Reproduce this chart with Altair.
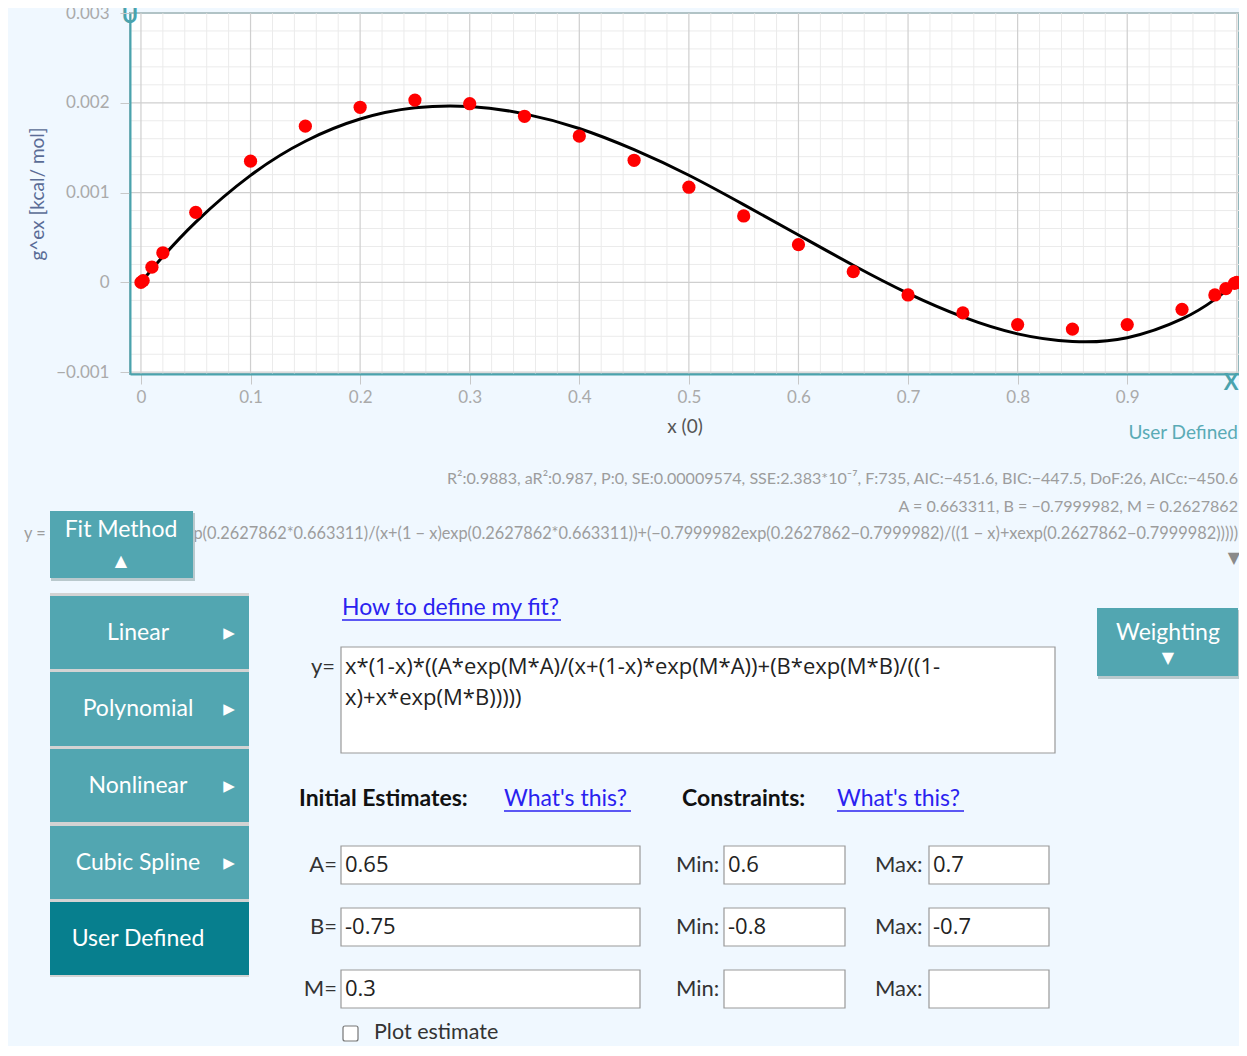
import altair as alt
import pandas as pd

# ---------------- chart values ----------------
pt_x = [0, 0.002, 0.01, 0.02, 0.05, 0.1, 0.15, 0.2, 0.25, 0.3, 0.35, 0.4, 0.45, 0.5,
        0.55, 0.6, 0.65, 0.7, 0.75, 0.8, 0.85, 0.9, 0.95, 0.98, 0.99, 0.998, 1.0]
pt_y = [0, 0.00002, 0.00017, 0.00033, 0.00078, 0.00135, 0.00174, 0.00195, 0.00203,
        0.00199, 0.00185, 0.00163, 0.00136, 0.00106, 0.00074, 0.00042, 0.00012,
        -0.00014, -0.00034, -0.00047, -0.00052, -0.00047, -0.00030, -0.00014,
        -0.00007, -0.00001, 0]

fit_x = [0, 0.01, 0.02, 0.05, 0.1, 0.15, 0.2, 0.25, 0.3, 0.35, 0.4, 0.45, 0.5, 0.55,
         0.6, 0.65, 0.7, 0.75, 0.8, 0.85, 0.9, 0.95, 0.98, 1.0]
fit_y = [0, 0.000147, 0.000287, 0.000672, 0.001192, 0.001572, 0.001819, 0.001944,
         0.001959, 0.001877, 0.001714, 0.001478, 0.001193, 0.000866, 0.000528,
         0.000191, -0.000122, -0.000384, -0.000573, -0.000658, -0.000616, -0.000407,
         -0.000189, 0]

x_grid = [0, 0.1, 0.2, 0.3, 0.4, 0.5, 0.6, 0.7, 0.8, 0.9, 1.0]
x_labels = [0, 0.1, 0.2, 0.3, 0.4, 0.5, 0.6, 0.7, 0.8, 0.9]
y_ticks = [-0.001, 0, 0.001, 0.002, 0.003]
x_minor = [round(i * 0.02, 2) for i in range(0, 51) if i % 5 != 0]
y_minor = [round(-0.001 + i * 0.0002, 5) for i in range(0, 21) if i % 5 != 0]

x_title = "x (0)"
y_title = "g^ex [kcal/ mol]"
fit_name = "User Defined"
stats_text = ("R²:0.9883, aR²:0.987, P:0, SE:0.00009574, SSE:2.383*10⁻⁷, F:735, "
              "AIC:−451.6, BIC:−447.5, DoF:26, AICc:−450.6")
params_text = "A = 0.663311, B = −0.7999982, M = 0.2627862"
formula_text = ("y = x(1 − x)(0.663311exp(0.2627862*0.663311)/(x+(1 − x)exp(0.2627862*0.663311))"
                "+(−0.7999982exp(0.2627862−0.7999982)/((1 − x)+xexp(0.2627862−0.7999982)))))")
menu_items = ["Linear", "Polynomial", "Nonlinear", "Cubic Spline", "User Defined"]
user_formula = ["x*(1-x)*((A*exp(M*A)/(x+(1-x)*exp(M*A))+(B*exp(M*B)/((1-",
                "x)+x*exp(M*B)))))"]
param_names = ["A=", "B=", "M="]
param_init = ["0.65", "-0.75", "0.3"]
param_min = ["0.6", "-0.8", ""]
param_max = ["0.7", "-0.7", ""]

# ---------------- styling ----------------
TEAL = "#52a6b1"
TEAL_DARK = "#077f8e"
AXIS_TEAL = "#4aa3ad"
LINK = "#2a22f0"
FONT = "Lato, DejaVu Sans"
INPUT_FONT = "Open Sans, DejaVu Sans"

XS = alt.Scale(domain=[-0.01, 1.002], nice=False, zero=False)
YS = alt.Scale(domain=[-0.00102, 0.003], nice=False, zero=False)

xaxis = alt.Axis(values=x_labels, format="~g", title=x_title, grid=False,
                 domainColor=AXIS_TEAL, domainWidth=2, tickColor="#c8c8c8", tickSize=10,
                 labelColor="#aaaaaa", labelFontSize=17, labelPadding=5, labelFlush=False,
                 labelFont=FONT, titleFont=FONT, titleColor="#555555", titleFontSize=19,
                 titleFontWeight="normal", titlePadding=12, zindex=1)
yaxis = alt.Axis(values=y_ticks, format="~g", title=y_title, grid=False,
                 domainColor=AXIS_TEAL, domainWidth=2, tickColor="#c8c8c8", tickSize=10,
                 labelColor="#aaaaaa", labelFontSize=17, labelPadding=11, labelFlush=False,
                 labelFont=FONT, titleFont=FONT, titleColor="#5a6c96", titleFontSize=19,
                 titleFontWeight="normal", titlePadding=8, zindex=1)

X = lambda f: alt.X(f, scale=XS, axis=xaxis)
Y = lambda f: alt.Y(f, scale=YS, axis=yaxis)

minor_v = alt.Chart(pd.DataFrame({"x": x_minor})).mark_rule(color="#ebebeb", strokeWidth=1).encode(x=X("x:Q"))
minor_h = alt.Chart(pd.DataFrame({"y": y_minor})).mark_rule(color="#ebebeb", strokeWidth=1).encode(y=Y("y:Q"))
major_v = alt.Chart(pd.DataFrame({"x": x_grid})).mark_rule(color="#cfcfcf", strokeWidth=1.2).encode(x=X("x:Q"))
major_h = alt.Chart(pd.DataFrame({"y": y_ticks})).mark_rule(color="#cfcfcf", strokeWidth=1.2).encode(y=Y("y:Q"))

curve = alt.Chart(pd.DataFrame({"x": fit_x, "y": fit_y})).mark_line(
    color="black", strokeWidth=3, interpolate="natural").encode(x=X("x:Q"), y=Y("y:Q"))
points = alt.Chart(pd.DataFrame({"x": pt_x, "y": pt_y})).mark_circle(
    color="#ff0000", size=175, opacity=1).encode(x=X("x:Q"), y=Y("y:Q"))


# ---------------- page widgets (pixel positions inside the chart) ----------------
def PX(f):
    return alt.X(f, scale=None, axis=None)


def PY(f):
    return alt.Y(f, scale=None, axis=None)


def text_layer(rows, align, font=FONT, weight="normal"):
    df = pd.DataFrame(rows, columns=["px", "py", "text", "color", "size"])
    return alt.Chart(df).mark_text(align=align, baseline="middle", font=font,
                                   fontWeight=weight).encode(
        x=PX("px:Q"), y=PY("py:Q"), text="text:N",
        color=alt.Color("color:N", scale=None), size=alt.Size("size:Q", scale=None))


def rect_layer(rows, stroke=None, sw=1, radius=0):
    df = pd.DataFrame(rows, columns=["x1", "x2", "y1", "y2", "fill"])
    kw = dict(cornerRadius=radius)
    if stroke:
        kw.update(stroke=stroke, strokeWidth=sw)
    return alt.Chart(df).mark_rect(**kw).encode(
        x=PX("x1:Q"), x2="x2:Q", y=PY("y1:Q"), y2="y2:Q",
        fill=alt.Color("fill:N", scale=None))


GRAY = "#9d9d9d"
stats_layer = text_layer([
    [1108, 466, stats_text, GRAY, 16.1],
    [1108, 494, params_text, GRAY, 16.1],
    [1108, 521, formula_text, GRAY, 16.35],
], "right")

menu_y = [(583, 656), (659, 733), (736, 809), (813, 886), (889, 962)]
btn_rows = [
    [-79, 65, 500, 568, "#b9c9cd"],
    [968, 1110, 597, 666, "#b9c9cd"],
    [-80, 63, 498, 565, TEAL],
    [967, 1108, 595, 663, TEAL],
    [-80, 119, 580, 964, "#d3d3d3"],
]
for i, (a, b) in enumerate(menu_y):
    btn_rows.append([-80, 119, a, b, TEAL_DARK if i == 4 else TEAL])
buttons = rect_layer(btn_rows)

box_rows = [[211, 925, 634, 740, "white"]]
row_y = [852, 914, 976]
for cy in row_y:
    box_rows.append([211, 510, cy - 19, cy + 19, "white"])
    box_rows.append([594, 715, cy - 19, cy + 19, "white"])
    box_rows.append([799, 919, cy - 19, cy + 19, "white"])
boxes = rect_layer(box_rows, stroke="#999999", sw=1.2)
checkbox = rect_layer([[213, 228, 1013, 1028, "white"]], stroke="#767676", sw=1.2, radius=2)

center_rows = [
    [-9, 517, "Fit Method", "white", 23],
    [-9, 548, "▲", "white", 16],
    [1038, 620, "Weighting", "white", 23],
    [1038, 645, "▼", "white", 16],
    [1104, 545, "▼", "#8a8a8a", 16],
]
for i, (a, b) in enumerate(menu_y):
    cy = (a + b) / 2
    center_rows.append([8, cy, menu_items[i], "white", 23])
    if i < 4:
        center_rows.append([99, cy, "▶", "white", 15])
centers = text_layer(center_rows, "center")

handles = text_layer([
    [0, 3, "U", AXIS_TEAL, 22],
    [1101, 370, "X", AXIS_TEAL, 22],
], "center", weight="bold")

right_rows = [
    [1108, 420, fit_name, "#5aabb6", 19],
    [205, 654, "y=", "#333333", 22],
]
for i, cy in enumerate(row_y):
    right_rows.append([207, cy, param_names[i], "#333333", 22])
rights = text_layer(right_rows, "right")

left_rows = [
    [212, 595, "How to define my fit?", LINK, 23],
    [374, 786, "What's this?", LINK, 23],
    [707, 786, "What's this?", LINK, 23],
    [244, 1020, "Plot estimate", "#333333", 21.5],
]
for cy in row_y:
    left_rows.append([546, cy, "Min:", "#333333", 22])
    left_rows.append([745, cy, "Max:", "#333333", 22])
lefts = text_layer(left_rows, "left")

input_rows = [
    [215, 654, user_formula[0], "#222222", 22],
    [215, 685, user_formula[1], "#222222", 22],
]
for i, cy in enumerate(row_y):
    input_rows.append([215, cy, param_init[i], "#222222", 22])
    input_rows.append([598, cy, param_min[i], "#222222", 22])
    input_rows.append([803, cy, param_max[i], "#222222", 22])
inputs = text_layer(input_rows, "left", font=INPUT_FONT)

bold = text_layer([
    [169, 786, "Initial Estimates:", "#111111", 23],
    [552, 786, "Constraints:", "#111111", 23],
], "left", weight="bold")

underline = alt.Chart(pd.DataFrame({
    "x1": [212, 374, 707], "x2": [431, 501, 834], "y": [607, 798, 798]
})).mark_rule(color=LINK, strokeWidth=1.5).encode(x=PX("x1:Q"), x2="x2:Q", y=PY("y:Q"))

chart = alt.layer(
    minor_v, minor_h, major_v, major_h, curve, points, handles,
    stats_layer, buttons, boxes, checkbox, centers, rights, lefts, inputs, bold, underline,
).properties(
    width=1109, height=361, autosize="none",
    padding={"left": 122, "top": 5, "right": 0, "bottom": 672},
).configure(background="#f0f8ff").configure_view(
    fill="white", stroke="#93b7bc", strokeWidth=2
)

chart.save("out.html", embed_options={"renderer": "svg", "actions": False})
